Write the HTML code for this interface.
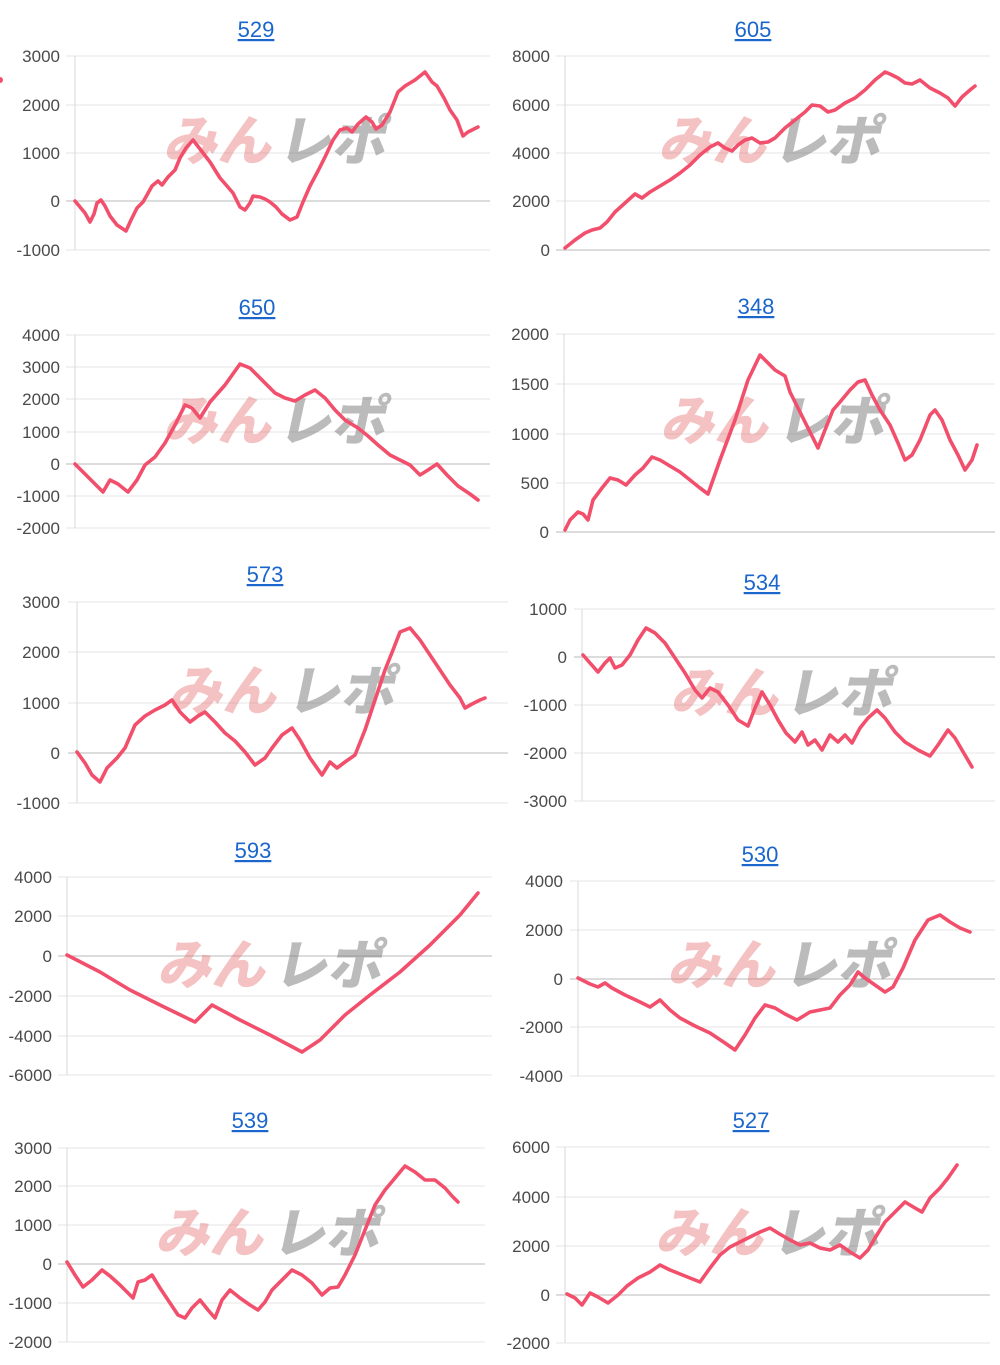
<!DOCTYPE html>
<html><head><meta charset="utf-8"><style>
html,body{margin:0;padding:0;background:#fff;}
svg{display:block}
.l{font-family:"Liberation Sans",sans-serif;font-size:17px;fill:#4a4a4a;text-anchor:end}
.t{font-family:"Liberation Sans",sans-serif;font-size:22px;fill:#1a66cc;text-anchor:middle;text-decoration:underline}
.g{stroke:#e4e4e4;stroke-width:1}
.z{stroke:#c8c8c8;stroke-width:1.3}
.a{stroke:#d8d8d8;stroke-width:1}
.p{fill:none;stroke:#f24f6c;stroke-width:3.6;stroke-linejoin:round;stroke-linecap:round}
.wp{font-family:"Noto Sans CJK JP",sans-serif;font-weight:900;font-size:54px;fill:rgba(228,110,110,0.42)}
.wg{font-family:"Noto Sans CJK JP",sans-serif;font-weight:900;font-size:54px;fill:rgba(120,120,120,0.5)}
</style></head><body>
<svg width="1000" height="1365" xmlns="http://www.w3.org/2000/svg">
<circle cx="0" cy="80" r="3" fill="#f24f6c"/>

<!-- 529 -->
<text class="t" x="256" y="37">529</text>
<g><line class="g" x1="66" x2="490" y1="56" y2="56"/><line class="g" x1="66" x2="490" y1="105" y2="105"/><line class="g" x1="66" x2="490" y1="153" y2="153"/><line class="z" x1="66" x2="490" y1="201" y2="201"/><line class="g" x1="66" x2="490" y1="250" y2="250"/><line class="a" x1="75" x2="75" y1="56" y2="250"/></g>
<text class="l" x="60" y="62">3000</text><text class="l" x="60" y="111">2000</text><text class="l" x="60" y="159">1000</text><text class="l" x="60" y="207">0</text><text class="l" x="60" y="256">-1000</text>
<g transform="translate(163,160) skewX(-12)"><text class="wp" x="0" y="0">みん</text><text class="wg" x="114" y="0">レポ</text></g>
<polyline class="p" points="75,201 80,207 85,213 90,222 94,214 97,203 101,200 105,206 110,216 117,225 126,231 131,220 137,208 143,202 147,195 152,186 158,181 162,185 168,177 175,170 180,158 186,148 193,140 200,149 210,162 220,178 227,186 233,193 240,207 245,210 250,203 253,196 260,197 265,199 270,202 276,207 282,214 290,220 297,217 303,202 310,186 318,171 325,157 333,140 340,130 347,128 352,132 358,124 366,117 372,122 376,129 382,125 390,112 398,92 405,86 415,80 425,72 432,82 437,86 444,98 450,110 457,120 463,136 468,132 478,127"/>

<!-- 605 -->
<text class="t" x="753" y="37">605</text>
<g><line class="g" x1="556" x2="990" y1="56" y2="56"/><line class="g" x1="556" x2="990" y1="105" y2="105"/><line class="g" x1="556" x2="990" y1="153" y2="153"/><line class="g" x1="556" x2="990" y1="201" y2="201"/><line class="z" x1="556" x2="990" y1="250" y2="250"/><line class="a" x1="565" x2="565" y1="56" y2="250"/></g>
<text class="l" x="550" y="62">8000</text><text class="l" x="550" y="111">6000</text><text class="l" x="550" y="159">4000</text><text class="l" x="550" y="207">2000</text><text class="l" x="550" y="256">0</text>
<g transform="translate(658,160) skewX(-12)"><text class="wp" x="0" y="0">みん</text><text class="wg" x="114" y="0">レポ</text></g>
<polyline class="p" points="565,248 575,240 585,233 592,230 600,228 607,222 615,212 625,203 635,194 642,198 650,192 660,186 670,180 680,173 690,165 700,155 710,147 718,143 725,148 732,151 738,145 745,140 752,138 760,143 768,142 775,138 785,128 795,120 805,112 812,105 820,106 828,112 835,110 845,103 855,98 865,90 875,80 885,72 890,74 898,78 905,83 912,84 920,80 930,88 940,93 948,98 955,106 962,97 970,90 975,86"/>

<!-- 650 -->
<text class="t" x="257" y="315">650</text>
<g><line class="g" x1="66" x2="490" y1="335" y2="335"/><line class="g" x1="66" x2="490" y1="367" y2="367"/><line class="g" x1="66" x2="490" y1="399" y2="399"/><line class="g" x1="66" x2="490" y1="432" y2="432"/><line class="z" x1="66" x2="490" y1="464" y2="464"/><line class="g" x1="66" x2="490" y1="496" y2="496"/><line class="g" x1="66" x2="490" y1="528" y2="528"/><line class="a" x1="75" x2="75" y1="335" y2="528"/></g>
<text class="l" x="60" y="341">4000</text><text class="l" x="60" y="373">3000</text><text class="l" x="60" y="405">2000</text><text class="l" x="60" y="438">1000</text><text class="l" x="60" y="470">0</text><text class="l" x="60" y="502">-1000</text><text class="l" x="60" y="534">-2000</text>
<g transform="translate(163,440) skewX(-12)"><text class="wp" x="0" y="0">みん</text><text class="wg" x="114" y="0">レポ</text></g>
<polyline class="p" points="75,464 85,474 95,484 103,492 110,480 118,484 128,492 137,480 145,465 155,457 165,443 175,425 185,405 192,408 200,418 210,402 225,385 240,364 250,368 262,380 275,393 285,398 295,401 305,395 315,390 325,398 335,410 345,420 358,428 368,436 378,445 390,455 400,460 410,465 420,475 428,470 437,464 447,475 458,486 470,494 478,500"/>

<!-- 348 -->
<text class="t" x="756" y="314">348</text>
<g><line class="g" x1="556" x2="995" y1="334" y2="334"/><line class="g" x1="556" x2="995" y1="384" y2="384"/><line class="g" x1="556" x2="995" y1="434" y2="434"/><line class="g" x1="556" x2="995" y1="483" y2="483"/><line class="z" x1="556" x2="995" y1="532" y2="532"/><line class="a" x1="564" x2="564" y1="334" y2="532"/></g>
<text class="l" x="549" y="340">2000</text><text class="l" x="549" y="390">1500</text><text class="l" x="549" y="440">1000</text><text class="l" x="549" y="489">500</text><text class="l" x="549" y="538">0</text>
<g transform="translate(660,440) skewX(-12)"><text class="wp" x="0" y="0">みん</text><text class="wg" x="116" y="0">レポ</text></g>
<polyline class="p" points="565,530 570,520 578,512 583,514 588,520 593,500 602,488 610,478 618,480 626,485 635,475 643,468 652,457 660,460 670,466 680,472 690,480 700,488 708,494 720,460 735,420 748,380 760,355 767,362 775,370 785,376 790,392 795,402 800,412 810,432 818,448 825,430 833,410 840,402 850,390 858,382 865,380 872,395 880,410 890,425 898,443 905,460 912,455 920,440 930,415 935,410 942,420 950,440 958,455 965,470 972,460 977,445"/>

<!-- 573 -->
<text class="t" x="265" y="582">573</text>
<g><line class="g" x1="68" x2="508" y1="602" y2="602"/><line class="g" x1="68" x2="508" y1="652" y2="652"/><line class="g" x1="68" x2="508" y1="703" y2="703"/><line class="z" x1="68" x2="508" y1="753" y2="753"/><line class="g" x1="68" x2="508" y1="803" y2="803"/><line class="a" x1="77" x2="77" y1="602" y2="803"/></g>
<text class="l" x="60" y="608">3000</text><text class="l" x="60" y="658">2000</text><text class="l" x="60" y="709">1000</text><text class="l" x="60" y="759">0</text><text class="l" x="60" y="809">-1000</text>
<g transform="translate(168,710) skewX(-12)"><text class="wp" x="0" y="0">みん</text><text class="wg" x="118" y="0">レポ</text></g>
<polyline class="p" points="77,752 85,763 92,775 100,782 107,768 117,758 125,748 135,725 145,716 155,710 165,705 172,700 180,712 190,722 198,716 205,712 215,722 225,733 235,741 245,752 255,765 265,758 272,748 282,735 292,728 300,740 310,758 322,775 330,762 337,768 345,762 355,755 365,730 375,700 385,670 393,650 400,632 410,628 420,640 430,655 440,670 450,685 460,698 465,708 472,704 480,700 485,698"/>

<!-- 534 -->
<text class="t" x="762" y="590">534</text>
<g><line class="g" x1="574" x2="995" y1="609" y2="609"/><line class="z" x1="574" x2="995" y1="657" y2="657"/><line class="g" x1="574" x2="995" y1="705" y2="705"/><line class="g" x1="574" x2="995" y1="753" y2="753"/><line class="g" x1="574" x2="995" y1="801" y2="801"/><line class="a" x1="582" x2="582" y1="609" y2="801"/></g>
<text class="l" x="567" y="615">1000</text><text class="l" x="567" y="663">0</text><text class="l" x="567" y="711">-1000</text><text class="l" x="567" y="759">-2000</text><text class="l" x="567" y="807">-3000</text>
<g transform="translate(670,712) skewX(-12)"><text class="wp" x="0" y="0">みん</text><text class="wg" x="114" y="0">レポ</text></g>
<polyline class="p" points="583,655 590,663 598,672 605,663 610,658 615,668 622,665 630,655 638,640 646,628 655,633 665,643 675,658 685,673 695,690 702,698 710,688 718,692 728,705 738,720 748,726 755,708 762,692 770,705 778,720 786,733 795,742 802,732 808,745 815,740 822,750 830,735 838,742 845,735 852,743 860,728 868,718 877,710 885,718 895,732 905,742 918,750 930,756 938,745 948,730 955,738 962,750 972,767"/>

<!-- 593 -->
<text class="t" x="253" y="858">593</text>
<g><line class="g" x1="58" x2="492" y1="877" y2="877"/><line class="g" x1="58" x2="492" y1="916" y2="916"/><line class="z" x1="58" x2="492" y1="956" y2="956"/><line class="g" x1="58" x2="492" y1="996" y2="996"/><line class="g" x1="58" x2="492" y1="1036" y2="1036"/><line class="g" x1="58" x2="492" y1="1075" y2="1075"/><line class="a" x1="67" x2="67" y1="877" y2="1075"/></g>
<text class="l" x="52" y="883">4000</text><text class="l" x="52" y="922">2000</text><text class="l" x="52" y="962">0</text><text class="l" x="52" y="1002">-2000</text><text class="l" x="52" y="1042">-4000</text><text class="l" x="52" y="1081">-6000</text>
<g transform="translate(157,984) skewX(-12)"><text class="wp" x="0" y="0">みん</text><text class="wg" x="116" y="0">レポ</text></g>
<polyline class="p" points="67,955 100,972 130,990 160,1005 195,1022 212,1005 240,1020 270,1035 302,1052 320,1040 345,1015 370,995 400,972 430,945 460,915 478,893"/>

<!-- 530 -->
<text class="t" x="760" y="862">530</text>
<g><line class="g" x1="570" x2="995" y1="881" y2="881"/><line class="g" x1="570" x2="995" y1="930" y2="930"/><line class="z" x1="570" x2="995" y1="979" y2="979"/><line class="g" x1="570" x2="995" y1="1027" y2="1027"/><line class="g" x1="570" x2="995" y1="1076" y2="1076"/><line class="a" x1="578" x2="578" y1="881" y2="1076"/></g>
<text class="l" x="563" y="887">4000</text><text class="l" x="563" y="936">2000</text><text class="l" x="563" y="985">0</text><text class="l" x="563" y="1033">-2000</text><text class="l" x="563" y="1082">-4000</text>
<g transform="translate(667,984) skewX(-12)"><text class="wp" x="0" y="0">みん</text><text class="wg" x="116" y="0">レポ</text></g>
<polyline class="p" points="578,978 590,984 598,987 605,983 612,988 625,995 640,1002 650,1007 660,1000 670,1010 680,1018 695,1026 710,1033 725,1043 735,1050 745,1035 755,1018 765,1005 775,1008 785,1014 797,1020 810,1012 820,1010 830,1008 840,995 850,985 858,972 865,978 875,985 885,992 893,987 903,968 915,940 928,920 940,915 950,922 960,928 970,932"/>

<!-- 539 -->
<text class="t" x="250" y="1128">539</text>
<g><line class="g" x1="58" x2="485" y1="1148" y2="1148"/><line class="g" x1="58" x2="485" y1="1186" y2="1186"/><line class="g" x1="58" x2="485" y1="1225" y2="1225"/><line class="z" x1="58" x2="485" y1="1264" y2="1264"/><line class="g" x1="58" x2="485" y1="1303" y2="1303"/><line class="g" x1="58" x2="485" y1="1342" y2="1342"/><line class="a" x1="67" x2="67" y1="1148" y2="1342"/></g>
<text class="l" x="52" y="1154">3000</text><text class="l" x="52" y="1192">2000</text><text class="l" x="52" y="1231">1000</text><text class="l" x="52" y="1270">0</text><text class="l" x="52" y="1309">-1000</text><text class="l" x="52" y="1348">-2000</text>
<g transform="translate(155,1252) skewX(-12)"><text class="wp" x="0" y="0">みん</text><text class="wg" x="116" y="0">レポ</text></g>
<polyline class="p" points="67,1262 75,1275 83,1287 92,1280 102,1270 110,1276 120,1285 133,1298 138,1282 145,1280 152,1275 160,1288 170,1303 178,1315 185,1318 192,1308 200,1300 208,1310 215,1318 222,1300 230,1290 240,1298 250,1305 258,1310 265,1302 272,1290 282,1280 292,1270 302,1275 312,1283 322,1295 330,1288 338,1287 345,1275 355,1255 365,1230 375,1205 385,1190 395,1178 405,1166 415,1172 425,1180 435,1180 445,1188 452,1196 458,1202"/>

<!-- 527 -->
<text class="t" x="751" y="1128">527</text>
<g><line class="g" x1="556" x2="990" y1="1147" y2="1147"/><line class="g" x1="556" x2="990" y1="1197" y2="1197"/><line class="g" x1="556" x2="990" y1="1246" y2="1246"/><line class="z" x1="556" x2="990" y1="1295" y2="1295"/><line class="g" x1="556" x2="990" y1="1343" y2="1343"/><line class="a" x1="565" x2="565" y1="1147" y2="1343"/></g>
<text class="l" x="550" y="1153">6000</text><text class="l" x="550" y="1203">4000</text><text class="l" x="550" y="1252">2000</text><text class="l" x="550" y="1301">0</text><text class="l" x="550" y="1349">-2000</text>
<g transform="translate(655,1252) skewX(-12)"><text class="wp" x="0" y="0">みん</text><text class="wg" x="116" y="0">レポ</text></g>
<polyline class="p" points="567,1294 575,1298 582,1305 590,1293 598,1297 608,1303 618,1295 627,1286 638,1278 650,1272 660,1265 670,1270 680,1274 690,1278 700,1282 710,1268 720,1255 730,1247 740,1242 750,1237 760,1232 770,1228 778,1233 790,1240 800,1245 810,1243 820,1248 830,1250 840,1245 850,1252 860,1258 868,1250 875,1238 885,1222 895,1212 905,1202 915,1208 922,1212 930,1198 940,1188 948,1178 957,1165"/>
</svg>
</body></html>
